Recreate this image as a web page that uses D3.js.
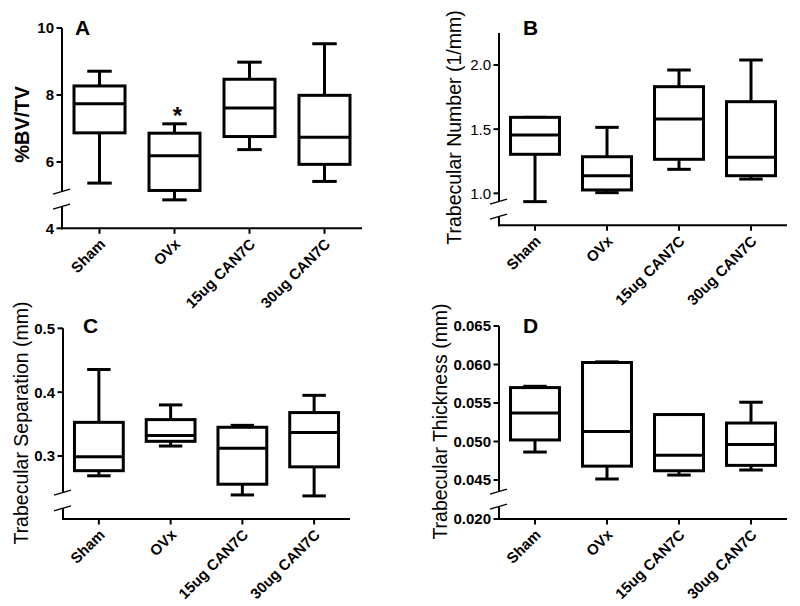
<!DOCTYPE html>
<html>
<head>
<meta charset="utf-8">
<script src="https://cdn.jsdelivr.net/npm/d3@7"></script>
<style>
  html, body { margin: 0; padding: 0; background: #fff; }
  svg { display: block; }
  text { font-family: Arial, "Liberation Sans", sans-serif; fill: #000; }
</style>
</head>
<body>
<svg id="chart" width="800" height="606"></svg>
<script>
// ---------- DATA ----------
const categories = ["Sham", "OVx", "15ug CAN7C", "30ug CAN7C"];

// Panel A: %BV/TV
const bvtvMin = [5.37, 4.87, 6.37, 5.42];
const bvtvQ1  = [6.87, 5.15, 6.76, 5.93];
const bvtvMed = [7.74, 6.19, 7.61, 6.74];
const bvtvQ3  = [8.27, 6.86, 8.47, 7.99];
const bvtvMax = [8.71, 7.14, 8.98, 9.53];
const bvtvTicks = [6, 8, 10];

// Panel B: Trabecular Number (1/mm)
const tbnMin = [0.935, 1.005, 1.187, 1.111];
const tbnQ1  = [1.304, 1.026, 1.265, 1.137];
const tbnMed = [1.454, 1.137, 1.579, 1.281];
const tbnQ3  = [1.592, 1.285, 1.831, 1.714];
const tbnMax = [1.592, 1.514, 1.961, 2.039];
const tbnTicks = [1.0, 1.5, 2.0];

// Panel C: Trabecular Separation (mm)
const tbspMin = [0.269, 0.3156, 0.239, 0.2375];
const tbspQ1  = [0.277, 0.323, 0.2558, 0.283];
const tbspMed = [0.299, 0.332, 0.312, 0.337];
const tbspQ3  = [0.3527, 0.357, 0.345, 0.368];
const tbspMax = [0.4355, 0.380, 0.348, 0.395];
const tbspTicks = [0.3, 0.4, 0.5];

// Panel D: Trabecular Thickness (mm)
const tbthMin = [0.04863, 0.04513, 0.04564, 0.0463];
const tbthQ1  = [0.0502, 0.0468, 0.0462, 0.0469];
const tbthMed = [0.0537, 0.0513, 0.0482, 0.0496];
const tbthQ3  = [0.0570, 0.06026, 0.0535, 0.0524];
const tbthMax = [0.05717, 0.06034, 0.0535, 0.0551];
const tbthTicks = [0.045, 0.050, 0.055, 0.060, 0.065];

const bottomLabelA = "4";
const bottomLabelD = "0.020";

// ---------- PANELS (layout) ----------
const panels = [
  { letter: "A", title: "%BV/TV", titleBold: true, tickBold: true, tickFmt: d3.format("d"),
    mins: bvtvMin, q1: bvtvQ1, med: bvtvMed, q3: bvtvQ3, maxs: bvtvMax, ticks: bvtvTicks,
    x0: 62, x1: 362, yLoPx: 162, yHiPx: 28, axisTop: 28, yBottom: 228.3, brk1: 191.7, brk2: 206.7,
    bottomLabel: bottomLabelA, titleX: 29, titleY: 124.5, letterX: 75, letterY: 35, star: 1 },
  { letter: "B", title: "Trabecular Number (1/mm)", titleBold: false, tickBold: false, tickFmt: d3.format(".1f"),
    mins: tbnMin, q1: tbnQ1, med: tbnMed, q3: tbnQ3, maxs: tbnMax, ticks: tbnTicks,
    x0: 499, x1: 787, yLoPx: 193.3, yHiPx: 65, axisTop: 33, yBottom: 225.3, brk1: 201.7, brk2: 216.7,
    bottomLabel: null, titleX: 461, titleY: 127.5, letterX: 523, letterY: 35, star: -1 },
  { letter: "C", title: "Trabecular Separation (mm)", titleBold: false, tickBold: true, tickFmt: d3.format(".1f"),
    mins: tbspMin, q1: tbspQ1, med: tbspMed, q3: tbspQ3, maxs: tbspMax, ticks: tbspTicks,
    x0: 63, x1: 350, yLoPx: 456, yHiPx: 328.3, axisTop: 328.3, yBottom: 519, brk1: 492.7, brk2: 508.3,
    bottomLabel: null, titleX: 28, titleY: 423, letterX: 83, letterY: 333, star: -1 },
  { letter: "D", title: "Trabecular Thickness (mm)", titleBold: false, tickBold: true, tickFmt: d3.format(".3f"),
    mins: tbthMin, q1: tbthQ1, med: tbthMed, q3: tbthQ3, maxs: tbthMax, ticks: tbthTicks,
    x0: 499, x1: 787, yLoPx: 480, yHiPx: 326, axisTop: 326, yBottom: 519, brk1: 491.7, brk2: 506.7,
    bottomLabel: bottomLabelD, titleX: 447, titleY: 421.5, letterX: 523, letterY: 333, star: -1 }
];

const svg = d3.select("#chart");
const BOX_SW = 3, AXIS_SW = 2;

panels.forEach(p => {
  const g = svg.append("g");
  const x = d3.scaleBand().domain(categories).range([p.x0, p.x1]).padding(0);
  const y = d3.scaleLinear()
    .domain([p.ticks[0], p.ticks[p.ticks.length - 1]])
    .range([p.yLoPx, p.yHiPx]);
  const bw = x.bandwidth();
  const boxW = bw * 0.68;
  const capW = boxW * 0.48;

  // y axis upper segment
  g.append("line").attr("x1", p.x0).attr("x2", p.x0)
    .attr("y1", p.axisTop).attr("y2", p.brk1)
    .attr("stroke", "#000").attr("stroke-width", AXIS_SW);
  // y axis lower segment
  g.append("line").attr("x1", p.x0).attr("x2", p.x0)
    .attr("y1", p.brk2).attr("y2", p.yBottom + 1)
    .attr("stroke", "#000").attr("stroke-width", AXIS_SW);
  // break slashes
  [p.brk1, p.brk2].forEach(b => {
    g.append("line").attr("x1", p.x0 - 9).attr("x2", p.x0 + 8)
      .attr("y1", b + 2.5).attr("y2", b - 2.5)
      .attr("stroke", "#000").attr("stroke-width", 1.4);
  });
  // x axis
  g.append("line").attr("x1", p.x0 - 1).attr("x2", p.x1)
    .attr("y1", p.yBottom).attr("y2", p.yBottom)
    .attr("stroke", "#000").attr("stroke-width", AXIS_SW);

  // y ticks
  const tickSize = 5.5;
  const yt = g.selectAll(".yt").data(p.ticks).enter().append("g");
  yt.append("line").attr("x1", p.x0 - tickSize).attr("x2", p.x0)
    .attr("y1", d => y(d)).attr("y2", d => y(d))
    .attr("stroke", "#000").attr("stroke-width", AXIS_SW);
  yt.append("text").attr("x", p.x0 - tickSize - 2.5).attr("y", d => y(d))
    .attr("dy", "0.36em").attr("text-anchor", "end")
    .attr("font-size", 15).attr("font-weight", p.tickBold ? "bold" : "normal")
    .text(d => p.tickFmt(d));
  if (p.bottomLabel) {
    g.append("line").attr("x1", p.x0 - tickSize).attr("x2", p.x0)
      .attr("y1", p.yBottom).attr("y2", p.yBottom)
      .attr("stroke", "#000").attr("stroke-width", AXIS_SW);
    g.append("text").attr("x", p.x0 - tickSize - 2.5).attr("y", p.yBottom)
      .attr("dy", "0.36em").attr("text-anchor", "end")
      .attr("font-size", 15).attr("font-weight", "bold")
      .text(p.bottomLabel);
  }

  // x ticks and labels
  const xt = g.selectAll(".xt").data(categories).enter().append("g");
  xt.append("line")
    .attr("x1", d => x(d) + bw / 2).attr("x2", d => x(d) + bw / 2)
    .attr("y1", p.yBottom).attr("y2", p.yBottom + 5.5)
    .attr("stroke", "#000").attr("stroke-width", AXIS_SW);
  xt.append("text")
    .attr("transform", d => `translate(${x(d) + bw / 2 + 3},${p.yBottom + 13}) rotate(-45)`)
    .attr("text-anchor", "end").attr("dy", "0.35em")
    .attr("font-size", 15).attr("font-weight", "bold")
    .text(d => d);

  // boxes
  categories.forEach((c, i) => {
    const cx = x(c) + bw / 2;
    const bg = g.append("g");
    // whiskers
    bg.append("line").attr("x1", cx).attr("x2", cx)
      .attr("y1", y(p.q3[i])).attr("y2", y(p.maxs[i]))
      .attr("stroke", "#000").attr("stroke-width", BOX_SW);
    bg.append("line").attr("x1", cx).attr("x2", cx)
      .attr("y1", y(p.q1[i])).attr("y2", y(p.mins[i]))
      .attr("stroke", "#000").attr("stroke-width", BOX_SW);
    // caps
    [p.maxs[i], p.mins[i]].forEach(v => {
      bg.append("line").attr("x1", cx - capW / 2).attr("x2", cx + capW / 2)
        .attr("y1", y(v)).attr("y2", y(v))
        .attr("stroke", "#000").attr("stroke-width", BOX_SW);
    });
    // box
    bg.append("rect").attr("x", cx - boxW / 2).attr("width", boxW)
      .attr("y", y(p.q3[i])).attr("height", y(p.q1[i]) - y(p.q3[i]))
      .attr("fill", "#fff").attr("stroke", "#000").attr("stroke-width", BOX_SW);
    // median
    bg.append("line").attr("x1", cx - boxW / 2).attr("x2", cx + boxW / 2)
      .attr("y1", y(p.med[i])).attr("y2", y(p.med[i]))
      .attr("stroke", "#000").attr("stroke-width", BOX_SW);
    if (i === p.star) {
      bg.append("text").attr("x", cx + 3).attr("y", y(p.maxs[i]))
        .attr("text-anchor", "middle").attr("font-size", 24).attr("font-weight", "bold")
        .text("*");
    }
  });

  // y-axis title
  g.append("text")
    .attr("transform", `translate(${p.titleX},${p.titleY}) rotate(-90)`)
    .attr("text-anchor", "middle")
    .attr("font-size", p.titleBold ? 20 : 19.5)
    .attr("font-weight", p.titleBold ? "bold" : "normal")
    .text(p.title);

  // panel letter
  g.append("text").attr("x", p.letterX).attr("y", p.letterY)
    .attr("font-size", 21).attr("font-weight", "bold")
    .text(p.letter);
});
</script>
</body>
</html>
